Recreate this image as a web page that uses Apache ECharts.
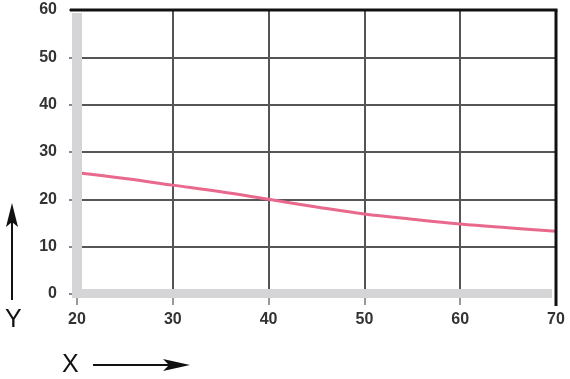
<!DOCTYPE html>
<html>
<head>
<meta charset="utf-8">
<script src="https://cdn.jsdelivr.net/npm/echarts@6/dist/echarts.min.js"></script>
<style>html,body{margin:0;padding:0;background:#fff}#c{width:570px;height:379px}</style>
</head>
<body>
<div id="c"></div>
<script>
const xValues = [20, 25, 30, 35, 40, 45, 50, 55, 60, 65, 70];
const yValues = [25.6, 24.4, 23, 21.6, 20, 18.4, 16.9, 15.8, 14.8, 14, 13.25];
const xTicks = [20, 30, 40, 50, 60, 70];
const yTicks = [0, 10, 20, 30, 40, 50, 60];

const chart = echarts.init(document.getElementById('c'));
const font = 'Liberation Sans, Arial, sans-serif';
const labelStyle = {color: '#333', fontFamily: font, fontWeight: 'bold', fontSize: 16};
const xMin = xTicks[0], xMax = xTicks[xTicks.length - 1];
const yMin = yTicks[0], yMax = yTicks[yTicks.length - 1];
chart.setOption({
  animation: false,
  grid: {left: 77, right: 14, top: 10, bottom: 85, containLabel: false},
  xAxis: {
    type: 'value', min: xMin, max: xMax, interval: 10,
    axisLine: {show: false},
    axisTick: {show: true, length: 11, lineStyle: {color: '#999', width: 2}},
    splitLine: {show: true, showMinLine: false, showMaxLine: false, lineStyle: {color: '#555', width: 2}},
    axisLabel: Object.assign({margin: 18}, labelStyle)
  },
  yAxis: {
    type: 'value', min: yMin, max: yMax, interval: 10,
    axisLine: {show: false},
    axisTick: {show: true, length: 8, lineStyle: {color: '#888', width: 2}},
    splitLine: {show: true, showMinLine: false, showMaxLine: false, lineStyle: {color: '#555', width: 2}},
    axisLabel: Object.assign({margin: 20}, labelStyle)
  },
  series: [{
    type: 'line', smooth: 0.4, symbol: 'none', z: 2,
    lineStyle: {color: '#e8698c', width: 3},
    data: xValues.map((x, i) => [x, yValues[i]])
  }]
});

// frame decorations positioned through the chart's own scales
const p00 = chart.convertToPixel({gridIndex: 0}, [xMin, yMin]);
const p11 = chart.convertToPixel({gridIndex: 0}, [xMax, yMax]);
const gray = '#d5d5d7';
chart.setOption({
  graphic: [
    {type: 'rect', z: 10, shape: {x: p00[0] - 5, y: p11[1] + 3, width: 10, height: p00[1] + 3 - (p11[1] + 3)}, style: {fill: gray}},
    {type: 'rect', z: 10, shape: {x: p00[0] - 5, y: p00[1] - 5, width: p11[0] - 4 - (p00[0] - 5), height: 9}, style: {fill: gray}},
    {type: 'line', z: 11, shape: {x1: p00[0] - 7, y1: p11[1], x2: p11[0] + 1.5, y2: p11[1]}, style: {stroke: '#111', lineWidth: 3}},
    {type: 'line', z: 11, shape: {x1: p11[0], y1: p11[1], x2: p11[0], y2: p00[1] + 12}, style: {stroke: '#111', lineWidth: 3}},
    {type: 'line', shape: {x1: 12, y1: 300, x2: 12, y2: 220}, style: {stroke: '#111', lineWidth: 2}},
    {type: 'polygon', shape: {points: [[12, 203], [6, 227], [12, 222], [18, 227]]}, style: {fill: '#111'}},
    {type: 'text', left: 5, top: 308, style: {text: 'Y', fontSize: 25, fontFamily: font, fill: '#111'}},
    {type: 'text', left: 62, top: 353, style: {text: 'X', fontSize: 25, fontFamily: font, fill: '#111'}},
    {type: 'line', shape: {x1: 93, y1: 365, x2: 172, y2: 365}, style: {stroke: '#111', lineWidth: 2}},
    {type: 'polygon', shape: {points: [[190, 365], [163, 359], [169, 365], [163, 371]]}, style: {fill: '#111'}}
  ]
});
</script>
</body>
</html>
